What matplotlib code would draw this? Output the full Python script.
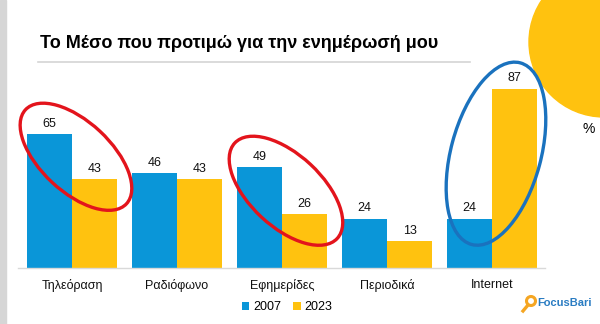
import matplotlib
matplotlib.use("Agg")
import matplotlib.pyplot as plt
from matplotlib.patches import Ellipse, Circle, Rectangle
from matplotlib.lines import Line2D
from matplotlib.transforms import IdentityTransform
import numpy as np

# data
categories = ["Τηλεόραση", "Ραδιόφωνο", "Εφημερίδες", "Περιοδικά", "Internet"]
years = ["2007", "2023"]
values_2007 = [65, 46, 49, 24, 24]
values_2023 = [43, 43, 26, 13, 87]
title = "Το Μέσο που προτιμώ για την ενημέρωσή μου"

BLUE = "#0a96d8"
YELLOW = "#ffc20f"
RED = "#e3141c"
RING_BLUE = "#1a72be"

plt.rcParams["font.family"] = ["Liberation Sans", "DejaVu Sans"]

fig = plt.figure(figsize=(6, 3.24), dpi=100)
fig.patch.set_facecolor("white")

# axes placed so that the baseline sits at y=268px
ax = fig.add_axes([18 / 600, 56 / 324, 527 / 600, 206 / 324])
x = np.arange(len(categories))
w = 0.43
b1 = ax.bar(x - w / 2, values_2007, w, color=BLUE, label=years[0])
b2 = ax.bar(x + w / 2, values_2023, w, color=YELLOW, label=years[1])

for bars, vals in ((b1, values_2007), (b2, values_2023)):
    for rect, v in zip(bars, vals):
        ax.text(rect.get_x() + rect.get_width() / 2, v + 2.2, str(v),
                ha="center", va="bottom", fontsize=9, color="#111111")

ax.set_xlim(-0.514, 4.505)
ax.set_ylim(0, 100)
ax.set_xticks(x)
ax.set_xticklabels(categories, fontsize=9, color="#111111")
ax.tick_params(axis="x", length=0, pad=8)
ax.set_yticks([])
for s in ("top", "right", "left"):
    ax.spines[s].set_visible(False)
ax.spines["bottom"].set_color("#d9d9d9")
ax.spines["bottom"].set_linewidth(1)

# left grey strip of the slide
fig.add_artist(Rectangle((0, 0), 6 / 600, 1, transform=fig.transFigure,
                         color="#d6d6d6", zorder=0))

# title and rule
fig.text(40 / 600, 1 - 44 / 324, title, fontsize=13, fontweight="bold",
         ha="left", va="center", color="black")
fig.add_artist(Line2D([38 / 600, 470 / 600], [1 - 62 / 324, 1 - 62 / 324],
                      transform=fig.transFigure, color="#d4d4d4", lw=1.2))

# decorative yellow circle, top right (pixel coords, y up)
fig.add_artist(Circle((604, 324 - 42), 75, transform=IdentityTransform(),
                      color=YELLOW, zorder=1))

fig.text(589 / 600, 1 - 129 / 324, "%", fontsize=10, ha="center", va="center")

# highlight ellipses around groups, centred on the group midpoint
fig.canvas.draw()
def ring(i, a, b, angle, color):
    mid = (values_2007[i] + values_2023[i]) / 2
    cx, cy = ax.transData.transform((x[i], mid))
    fig.add_artist(Ellipse((cx + 4, cy), 2 * a, 2 * b, angle=angle,
                           transform=IdentityTransform(), fill=False,
                           edgecolor=color, lw=2.4, zorder=5))

ring(0, 69, 35, -43, RED)
ring(2, 70, 36, -43, RED)
ring(4, 94, 45, 75, RING_BLUE)

# legend
fig.legend(handles=[b1, b2], labels=years, loc="center",
           bbox_to_anchor=(287 / 600, 1 - 307 / 324), ncol=2, frameon=False,
           fontsize=9, handlelength=0.6, handleheight=0.6, handletextpad=0.3,
           columnspacing=1.0)

# FocusBari logo
fig.add_artist(Circle((531, 324 - 301), 4.5, transform=IdentityTransform(),
                      fill=False, edgecolor="#f5a623", lw=2.2, zorder=5))
fig.add_artist(Line2D([528, 523], [324 - 305, 324 - 311],
                      transform=IdentityTransform(), color="#f5a623", lw=2.4))
fig.text(537 / 600, 1 - 303 / 324, "FocusBari", fontsize=8, fontweight="bold",
         color="#2a7cc2", ha="left", va="center")

fig.savefig("out.png", dpi=100)
